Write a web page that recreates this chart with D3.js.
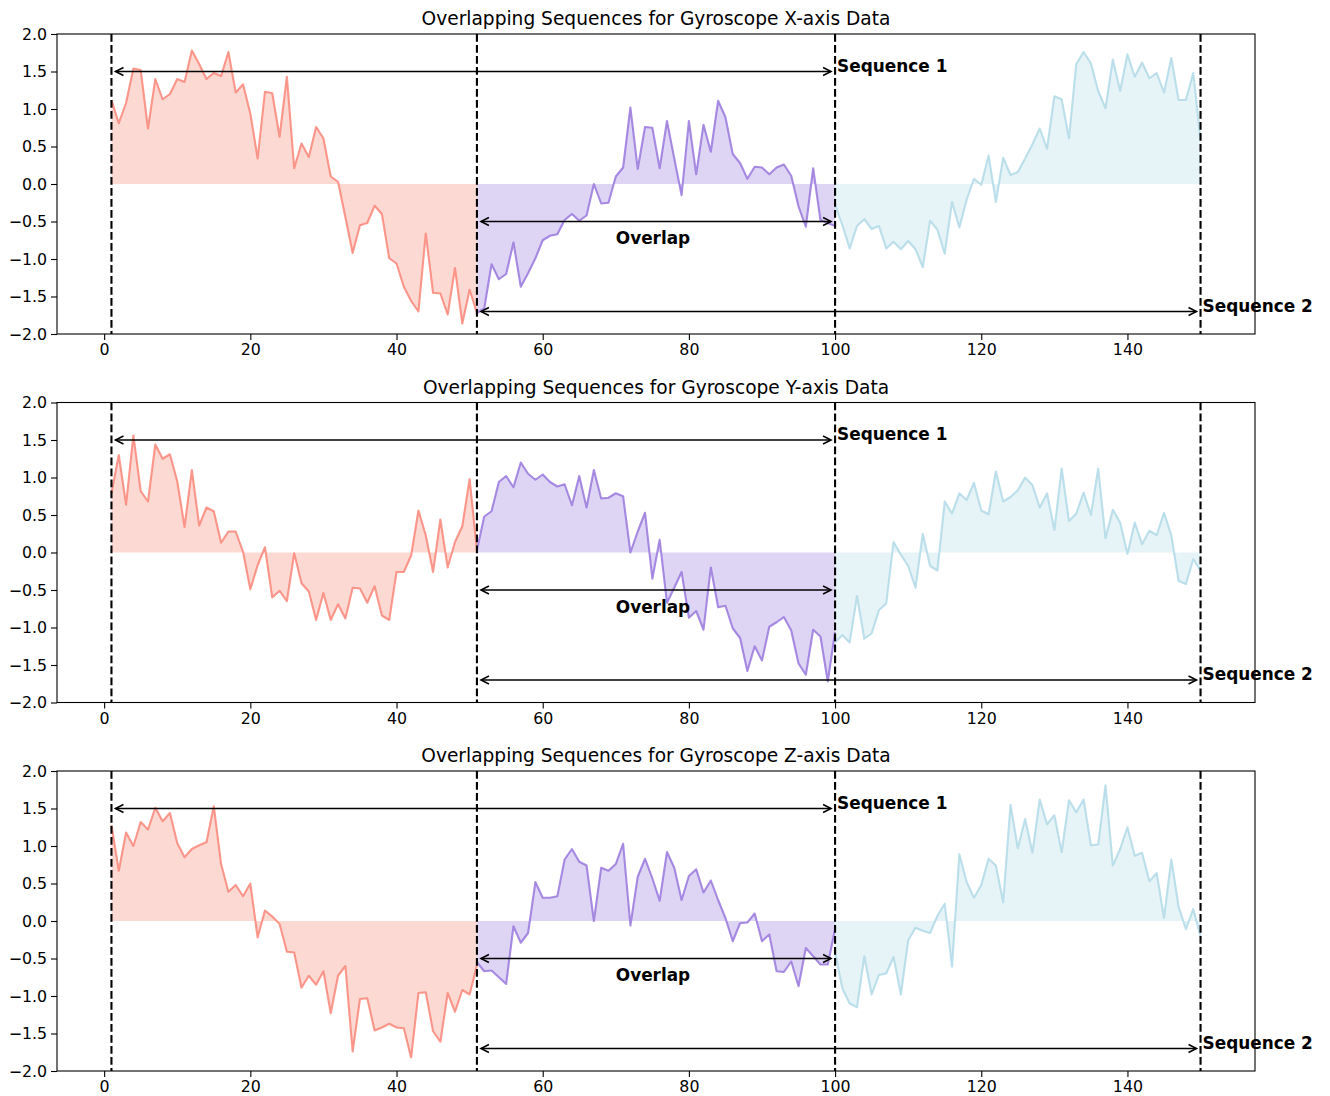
<!DOCTYPE html>
<html>
<head>
<meta charset="utf-8">
<script src="https://cdn.jsdelivr.net/npm/d3@7"></script>
<style>
  body { margin: 0; background: #ffffff; }
  text { font-family: "DejaVu Sans", sans-serif; }
</style>
</head>
<body>
<script>
/*
* Overlapping sequences for gyroscope data, three panels (X, Y, Z).
*/

// readings for the first part of sequence 1 (x = 1 .. 51)
var gyroXFirst = [1.12, 0.81, 1.08, 1.54, 1.52, 0.74, 1.40, 1.13, 1.20, 1.40, 1.36, 1.78, 1.60, 1.40, 1.48, 1.44, 1.76, 1.22, 1.33, 0.94,
  0.34, 1.23, 1.21, 0.63, 1.43, 0.21, 0.54, 0.36, 0.76, 0.61, 0.10, 0.03, -0.44, -0.92, -0.55, -0.52, -0.29, -0.40, -0.99, -1.06,
  -1.37, -1.56, -1.70, -0.66, -1.45, -1.46, -1.74, -1.12, -1.86, -1.41, -1.72];
var gyroYFirst = [0.79, 1.30, 0.64, 1.56, 0.82, 0.68, 1.44, 1.25, 1.31, 0.95, 0.34, 1.10, 0.36, 0.60, 0.55, 0.13, 0.28, 0.28, 0.01, -0.49,
  -0.17, 0.07, -0.60, -0.51, -0.65, -0.01, -0.41, -0.52, -0.90, -0.54, -0.90, -0.69, -0.88, -0.47, -0.48, -0.67, -0.45, -0.84, -0.90, -0.26,
  -0.26, -0.04, 0.56, 0.23, -0.26, 0.44, -0.20, 0.14, 0.35, 0.98, 0.03];
var gyroZFirst = [1.28, 0.67, 1.18, 1.00, 1.32, 1.22, 1.51, 1.33, 1.44, 1.04, 0.85, 0.96, 1.01, 1.05, 1.53, 0.76, 0.39, 0.48, 0.33, 0.50,
  -0.22, 0.14, 0.06, -0.04, -0.41, -0.42, -0.89, -0.73, -0.85, -0.67, -1.23, -0.73, -0.60, -1.74, -1.04, -1.03, -1.46, -1.42, -1.37, -1.42,
  -1.43, -1.82, -0.96, -0.95, -1.47, -1.61, -0.96, -1.21, -0.92, -0.98, -0.59];

// readings in the overlap (x = 51 .. 100)
var gyroXOverlap = [-1.72, -1.66, -1.07, -1.27, -1.20, -0.78, -1.37, -1.19, -0.99, -0.75, -0.69, -0.67, -0.48, -0.40, -0.49, -0.42, 0.00, -0.26, -0.25, 0.10,
  0.22, 1.02, 0.20, 0.76, 0.75, 0.21, 0.84, 0.34, -0.15, 0.84, 0.13, 0.79, 0.43, 1.11, 0.89, 0.40, 0.28, 0.07, 0.23, 0.22,
  0.13, 0.22, 0.26, 0.11, -0.30, -0.57, 0.21, -0.48, -0.52, -0.56];
var gyroYOverlap = [0.03, 0.48, 0.55, 0.94, 1.02, 0.87, 1.20, 1.05, 0.97, 1.04, 0.94, 0.88, 0.91, 0.63, 1.02, 0.60, 1.10, 0.72, 0.73, 0.79,
  0.75, 0.00, 0.28, 0.53, -0.35, 0.17, -0.67, -0.47, -0.26, -0.87, -0.78, -1.03, -0.20, -0.73, -0.71, -1.01, -1.14, -1.58, -1.25, -1.44,
  -0.99, -0.93, -0.86, -1.04, -1.48, -1.63, -1.03, -1.12, -1.72, -1.06];
var gyroZOverlap = [-0.55, -0.67, -0.66, -0.75, -0.84, -0.07, -0.29, -0.16, 0.52, 0.31, 0.31, 0.33, 0.82, 0.96, 0.79, 0.74, 0.00, 0.71, 0.67, 0.76,
  1.03, -0.06, 0.59, 0.83, 0.57, 0.27, 0.92, 0.71, 0.28, 0.60, 0.69, 0.38, 0.54, 0.28, 0.04, -0.27, -0.03, -0.02, 0.10, -0.27,
  -0.18, -0.67, -0.68, -0.54, -0.87, -0.36, -0.47, -0.58, -0.58, -0.11];

// readings for the last part of sequence 2 (x = 100 .. 150)
var gyroXLast = [-0.28, -0.55, -0.86, -0.56, -0.47, -0.60, -0.56, -0.86, -0.77, -0.87, -0.76, -0.87, -1.11, -0.49, -0.61, -0.93, -0.24, -0.58, -0.21, 0.07,
  -0.01, 0.38, -0.24, 0.35, 0.12, 0.16, 0.34, 0.53, 0.74, 0.47, 1.17, 1.13, 0.61, 1.60, 1.76, 1.61, 1.24, 1.01, 1.66, 1.24,
  1.73, 1.43, 1.62, 1.41, 1.48, 1.22, 1.68, 1.12, 1.12, 1.48, 0.59];
var gyroYLast = [-1.20, -1.10, -1.20, -0.58, -1.15, -1.08, -0.77, -0.68, 0.14, -0.03, -0.18, -0.47, 0.25, -0.18, -0.24, 0.68, 0.52, 0.79, 0.70, 0.93,
  0.56, 0.51, 1.08, 0.68, 0.74, 0.83, 1.00, 0.90, 0.60, 0.79, 0.30, 1.12, 0.42, 0.52, 0.80, 0.50, 1.12, 0.19, 0.57, 0.40,
  -0.02, 0.40, 0.11, 0.29, 0.23, 0.53, 0.23, -0.38, -0.42, -0.09, -0.24];
var gyroZLast = [-0.42, -0.90, -1.10, -1.15, -0.47, -0.98, -0.72, -0.70, -0.48, -0.98, -0.26, -0.09, -0.13, -0.16, 0.07, 0.23, -0.61, 0.89, 0.52, 0.31,
  0.48, 0.83, 0.74, 0.25, 1.55, 0.97, 1.36, 0.91, 1.62, 1.29, 1.41, 0.92, 1.61, 1.45, 1.62, 1.01, 1.02, 1.81, 0.74, 0.96,
  1.25, 0.87, 0.91, 0.53, 0.64, 0.04, 0.82, 0.19, -0.11, 0.16, -0.21];

// panel names and tick labels
var axisNames = ["X", "Y", "Z"];
var xTicks = [0, 20, 40, 60, 80, 100, 120, 140];
var yTicks = [-2.0, -1.5, -1.0, -0.5, 0.0, 0.5, 1.0, 1.5, 2.0];

// sequence boundaries
var seqOneStart = 1;
var overlapStart = 51;
var overlapEnd = 100;
var seqTwoEnd = 150;

var panelData = [
  [gyroXFirst, gyroXOverlap, gyroXLast],
  [gyroYFirst, gyroYOverlap, gyroYLast],
  [gyroZFirst, gyroZOverlap, gyroZLast]
];

var partStarts = [seqOneStart, overlapStart, overlapEnd];
var partColors = ["#fa8072", "#9370db", "#add8e6"];

window.onload = function() {
  var svg = d3.select("body")
    .append("svg")
    .attr("width", 1330)
    .attr("height", 1096)
    .style("display", "block");

  svg.append("rect")
    .attr("width", 1330)
    .attr("height", 1096)
    .attr("fill", "#ffffff");

  for (var i = 0; i < 3; i++) {
    drawPanel(svg, i);
  }
};

/*
* Draws a double headed arrow between two x values at height y.
*/
function drawArrow(g, xScale, yScale, x1, x2, y) {
  var shrink = 4;
  var ax = xScale(x1) + shrink;
  var bx = xScale(x2) - shrink;
  var py = yScale(y);
  var len = 8, w = 4;

  g.append("line")
    .attr("x1", ax).attr("x2", bx)
    .attr("y1", py).attr("y2", py)
    .attr("stroke", "#000")
    .attr("stroke-width", 1.5);

  g.append("path")
    .attr("d", "M" + (ax + len) + "," + (py - w) + "L" + ax + "," + py + "L" + (ax + len) + "," + (py + w))
    .attr("fill", "none")
    .attr("stroke", "#000")
    .attr("stroke-width", 1.5);

  g.append("path")
    .attr("d", "M" + (bx - len) + "," + (py - w) + "L" + bx + "," + py + "L" + (bx - len) + "," + (py + w))
    .attr("fill", "none")
    .attr("stroke", "#000")
    .attr("stroke-width", 1.5);
}

/*
* Draws one panel of the figure.
*/
function drawPanel(svg, i) {
  var left = 57, right = 1255;
  var top = 34 + i * 368.5;
  var height = 300;

  var xScale = d3.scaleLinear()
    .domain([-6.45, 157.45])
    .range([left, right]);

  var yScale = d3.scaleLinear()
    .domain([-2, 2])
    .range([top + height, top]);

  var g = svg.append("g");

  // fills and lines for the three parts
  panelData[i].forEach(function(values, p) {
    var points = values.map(function(v, k) {
      return {x: partStarts[p] + k, y: v};
    });

    var area = d3.area()
      .x(function(d) { return xScale(d.x); })
      .y0(yScale(0))
      .y1(function(d) { return yScale(d.y); });

    var line = d3.line()
      .x(function(d) { return xScale(d.x); })
      .y(function(d) { return yScale(d.y); });

    g.append("path")
      .datum(points)
      .attr("d", area)
      .attr("fill", partColors[p])
      .attr("fill-opacity", 0.3);

    g.append("path")
      .datum(points)
      .attr("d", line)
      .attr("fill", "none")
      .attr("stroke", partColors[p])
      .attr("stroke-opacity", 0.8)
      .attr("stroke-width", 2.1)
      .attr("stroke-linejoin", "round");
  });

  // dashed boundaries
  [seqOneStart, overlapStart, overlapEnd, seqTwoEnd].forEach(function(v) {
    g.append("line")
      .attr("x1", xScale(v)).attr("x2", xScale(v))
      .attr("y1", top).attr("y2", top + height)
      .attr("stroke", "#000")
      .attr("stroke-width", 2.1)
      .attr("stroke-dasharray", "7.7,3.3");
  });

  // arrows and labels
  drawArrow(g, xScale, yScale, seqOneStart, overlapEnd, 1.5);
  drawArrow(g, xScale, yScale, overlapStart, overlapEnd, -0.5);
  drawArrow(g, xScale, yScale, overlapStart, seqTwoEnd, -1.7);

  g.append("text")
    .attr("x", xScale(overlapEnd) + 2)
    .attr("y", yScale(1.5))
    .text("Sequence 1")
    .style("font-size", "16.9px")
    .style("font-weight", "bold");

  g.append("text")
    .attr("x", xScale((overlapStart + overlapEnd) / 2) - 3)
    .attr("y", yScale(-0.8))
    .text("Overlap")
    .style("text-anchor", "middle")
    .style("font-size", "16.9px")
    .style("font-weight", "bold");

  g.append("text")
    .attr("x", xScale(seqTwoEnd) + 2)
    .attr("y", yScale(-1.7))
    .text("Sequence 2")
    .style("font-size", "16.9px")
    .style("font-weight", "bold");

  // axes
  var xAxis = d3.axisBottom(xScale)
    .tickValues(xTicks)
    .tickSize(6)
    .tickPadding(4)
    .tickFormat(d3.format("d"));

  var yAxis = d3.axisLeft(yScale)
    .tickValues(yTicks)
    .tickSize(6)
    .tickPadding(4)
    .tickFormat(function(d) { return d3.format(".1f")(d).replace("-", "\u2212"); });

  var gx = svg.append("g")
    .attr("transform", "translate(0," + (top + height) + ")")
    .call(xAxis);

  var gy = svg.append("g")
    .attr("transform", "translate(" + left + ",0)")
    .call(yAxis);

  [gx, gy].forEach(function(a) {
    a.select(".domain").remove();
    a.selectAll("line").attr("stroke", "#000").attr("stroke-width", 1.1);
    a.selectAll("text")
      .style("font-family", "DejaVu Sans, sans-serif")
      .style("font-size", "15.8px")
      .attr("fill", "#000");
  });

  // frame
  svg.append("rect")
    .attr("x", left).attr("y", top)
    .attr("width", right - left).attr("height", height)
    .attr("fill", "none")
    .attr("stroke", "#000")
    .attr("stroke-width", 1.1);

  // title
  svg.append("text")
    .attr("x", (left + right) / 2)
    .attr("y", top - 9)
    .text("Overlapping Sequences for Gyroscope " + axisNames[i] + "-axis Data")
    .style("text-anchor", "middle")
    .style("font-size", "18.6px");
}
</script>
</body>
</html>
